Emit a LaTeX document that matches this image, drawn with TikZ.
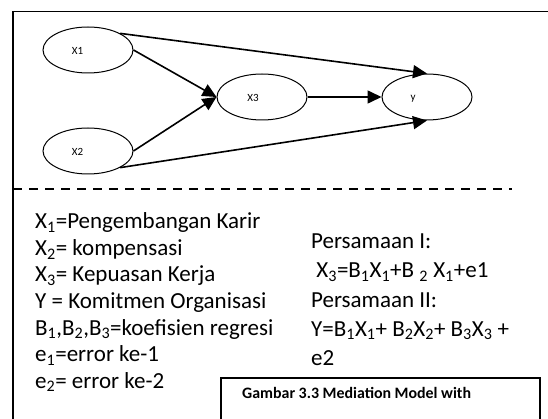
\documentclass[tikz,border=0pt]{standalone}
\usepackage{fontspec}
\setmainfont{Carlito}
\usetikzlibrary{arrows.meta,shapes.geometric}
\tikzset{
  ell/.style={draw, ellipse, line width=1pt, minimum width=90pt, minimum height=46pt, inner sep=0pt},
  lbl/.style={font=\fontsize{11}{13}\selectfont, inner sep=0pt},
  arr/.style={line width=1.6pt, -{Triangle[length=14pt,width=13pt]}},
  txt/.style={anchor=base west, inner sep=0pt, font=\fontsize{23}{26}\selectfont},
  captxt/.style={anchor=base west, inner sep=0pt, font=\fontsize{15.9}{18}\selectfont\bfseries},
}
\begin{document}
\begin{tikzpicture}[x=1pt,y=-1pt]
\useasboundingbox (0,0) rectangle (548,419);
% frame
\draw[line width=1.6pt] (13,419) -- (13,11.5) -- (548,11.5);
% ellipses
\node[ell] (x1) at (88,50) {};
\node[ell] (x2) at (88,151) {};
\node[ell] (x3) at (262,97) {};
\node[ell] (yy) at (427,97) {};
\node[lbl] (lx1) at (77.5,51) {X1};
\node[lbl] (lx2) at (77.5,152) {X2};
\node[lbl] (lx3) at (253,98) {X3};
\node[lbl] (ly) at (413,99) {y};
% arrows
\draw[arr] (x1.north east) -- (yy.north);
\draw[arr] (x1.east) -- (x3.west);
\draw[arr] (x2.east) -- (x3.west);
\draw[arr] (x3.east) -- (yy.west);
\draw[arr] (x2.south east) -- (yy.south);
% dashed separator
\draw[line width=1.2pt, dash pattern=on 9pt off 7pt] (13,189) -- (512,189);
% left text
\node[txt] (t1) at (35,229) {X\textsubscript{1}=Pengembangan Karir};
\node[txt] (t2) at (35,255.5) {X\textsubscript{2}= kompensasi};
\node[txt] (t3) at (35,282) {X\textsubscript{3}= Kepuasan Kerja};
\node[txt] (t4) at (35,308.5) {Y = Komitmen Organisasi};
\node[txt] (t5) at (35,335) {B\textsubscript{1},B\textsubscript{2},B\textsubscript{3}=koefisien regresi};
\node[txt] (t6) at (35,361.5) {e\textsubscript{1}=error ke-1};
\node[txt] (t7) at (35,388) {e\textsubscript{2}= error ke-2};
% right text
\node[txt] (r1) at (311,249) {Persamaan I:};
\node[txt] (r2) at (311,278) {\ X\textsubscript{3}=B\textsubscript{1}X\textsubscript{1}+B \textsubscript{2} X\textsubscript{1}+e1};
\node[txt] (r3) at (311,307) {Persamaan II:};
\node[txt] (r4) at (311,336) {Y=B\textsubscript{1}X\textsubscript{1}+ B\textsubscript{2}X\textsubscript{2}+ B\textsubscript{3}X\textsubscript{3} +};
\node[txt] (r5) at (311,365) {e2};
% caption box
\draw[line width=1.3pt] (221,419) -- (221,378) -- (540,378) -- (540,419);
\node[captxt] (c1) at (242,398) {Gambar 3.3 Mediation Model with};
\end{tikzpicture}
\end{document}
